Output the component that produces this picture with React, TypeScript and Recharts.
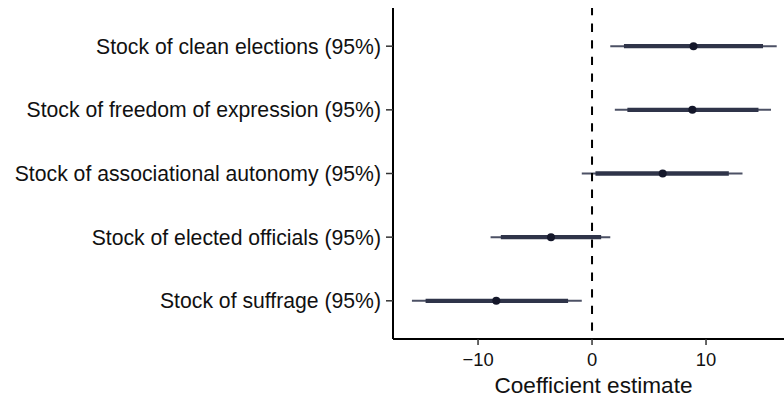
import React from 'react';
import { ComposedChart, Scatter, XAxis, YAxis, ErrorBar, ReferenceLine, Label } from 'recharts';

const categories = [
  'Stock of clean elections (95%)',
  'Stock of freedom of expression (95%)',
  'Stock of associational autonomy (95%)',
  'Stock of elected officials (95%)',
  'Stock of suffrage (95%)',
];
const estimates = [8.9, 8.8, 6.2, -3.6, -8.4];
const lower95 = [1.6, 2.0, -0.9, -8.9, -15.8];
const upper95 = [16.2, 15.7, 13.2, 1.6, -0.9];
const lower90 = [2.8, 3.1, 0.3, -8.0, -14.6];
const upper90 = [15.0, 14.6, 12.0, 0.8, -2.1];
const xTicks = [-10, 0, 10];
const yTicks = [1, 2, 3, 4, 5];

const data = categories.map((c, i) => ({
  pos: categories.length - i,
  label: c,
  est: estimates[i],
  err95: [estimates[i] - lower95[i], upper95[i] - estimates[i]],
  err90: [estimates[i] - lower90[i], upper90[i] - estimates[i]],
}));

const labelFor = (v: number) => {
  const idx = categories.length - v;
  return categories[idx] ?? '';
};

const font = '"Liberation Sans", Arial, Helvetica, sans-serif';

export default function App() {
  return (
    <div style={{ position: 'absolute', left: 0, top: 0 }}>
      <ComposedChart
        width={784}
        height={400}
        data={data}
        margin={{ top: 8, right: 0, bottom: 0, left: 0 }}
        style={{ fontFamily: font }}
      >
        <XAxis
          type="number"
          dataKey="est"
          domain={[-17.46, 16.84]}
          allowDataOverflow
          ticks={xTicks}
          height={61}
          axisLine={{ stroke: '#000', strokeWidth: 2 }}
          tickLine={{ stroke: '#333', strokeWidth: 1.5 }}
          tickSize={6}
          tickMargin={8}
          tick={{ fill: '#111', fontSize: 18.4, fontFamily: font }}
          tickFormatter={(v: number) => (v < 0 ? '\u2212' + Math.abs(v) : String(v))}
        >
          <Label
            value="Coefficient estimate"
            position="insideBottom"
            offset={7}
            dx={5}
            style={{ fill: '#111', fontSize: 22.6, fontFamily: font }}
          />
        </XAxis>
        <YAxis
          type="number"
          dataKey="pos"
          domain={[0.4, 5.6]}
          allowDataOverflow
          ticks={yTicks}
          width={393}
          axisLine={{ stroke: '#000', strokeWidth: 2 }}
          tickLine={{ stroke: '#333', strokeWidth: 1.5 }}
          tickSize={7}
          tickMargin={5}
          tick={{ fill: '#111', fontSize: 21.2, fontFamily: font }}
          tickFormatter={labelFor}
        />
        <Scatter
          data={data}
          dataKey="est"
          isAnimationActive={false}
          shape={(p: any) => <circle cx={p.cx} cy={p.cy} r={4} fill="#14172a" />}
        >
          <ErrorBar dataKey="err95" direction="x" width={0} strokeWidth={2} stroke="#4c5165" isAnimationActive={false} />
          <ErrorBar dataKey="err90" direction="x" width={0} strokeWidth={4.3} stroke="#2f3449" isAnimationActive={false} />
        </Scatter>
        <ReferenceLine x={0} stroke="#000" strokeWidth={2} strokeDasharray="8.3 8.3" strokeDashoffset={8.3} />
      </ComposedChart>
    </div>
  );
}
